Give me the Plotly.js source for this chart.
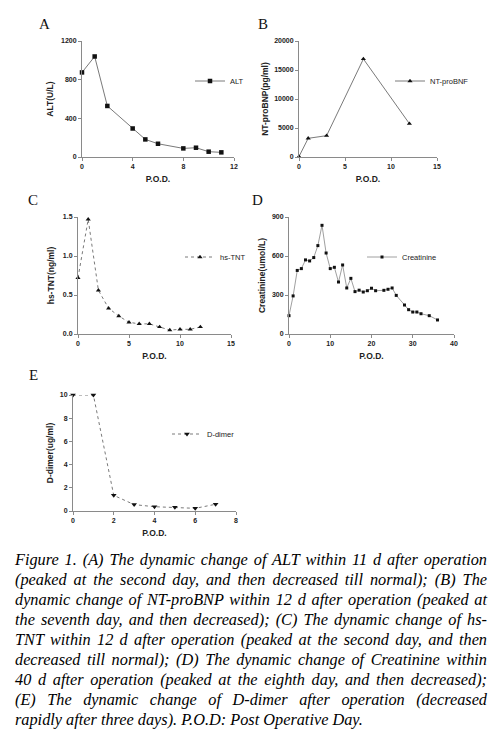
<!DOCTYPE html>
<html>
<head>
<meta charset="utf-8">
<script src="https://cdn.plot.ly/plotly-3.0.1.min.js"></script>
<style>
html,body{margin:0;padding:0;background:#fff;}
#wrap{position:relative;width:497px;height:741px;overflow:hidden;}
#chart{position:absolute;left:0;top:0;width:497px;height:741px;}
#caption{position:absolute;left:15px;top:550px;width:472px;font-family:"Liberation Serif","DejaVu Serif",serif;font-style:italic;font-size:16.3px;line-height:20px;color:#000;}
#caption div{text-align:justify;text-align-last:justify;white-space:normal;}
#caption div.last{text-align-last:left;}
</style>
</head>
<body>
<div id="wrap">
<div id="chart"></div>
<div id="caption"></div>
</div>
<script>
// ---- data ----
const altDays = [0, 1, 2, 4, 5, 6, 8, 9, 10, 11];
const altVals = [875, 1040, 528, 295, 182, 137, 89, 96, 55, 48];

const bnpDays = [0, 1, 3, 7, 12];
const bnpVals = [80, 3220, 3680, 16900, 5750];

const tntDays = [0, 1, 2, 3, 4, 5, 6, 7, 8, 9, 10, 11, 12];
const tntVals = [0.72, 1.47, 0.56, 0.33, 0.23, 0.15, 0.13, 0.13, 0.09, 0.05, 0.06, 0.06, 0.09];

const creDays = [0, 1, 2, 3, 4, 5, 6, 7, 8, 9, 10, 11, 12, 13, 14, 15, 16, 17, 18, 19, 20, 21, 23, 24, 25, 26, 28, 29, 30, 31, 32, 34, 36];
const creVals = [141, 293, 489, 503, 570, 562, 588, 680, 836, 623, 503, 513, 400, 531, 354, 428, 326, 337, 323, 333, 352, 333, 336, 344, 354, 297, 223, 187, 169, 169, 156, 141, 108];

const ddDays = [0, 1, 2, 3, 4, 5, 6, 7];
const ddVals = [10, 10, 1.35, 0.55, 0.37, 0.32, 0.23, 0.58];

const xTicksA = [0, 4, 8, 12];   const yTicksA = [0, 400, 800, 1200];
const xTicksB = [0, 5, 10, 15];  const yTicksB = [0, 5000, 10000, 15000, 20000];
const xTicksC = [0, 5, 10, 15];  const yTicksC = [0, 0.5, 1.0, 1.5];
const yTickTextC = ['0.0', '0.5', '1.0', '1.5'];
const xTicksD = [0, 10, 20, 30, 40]; const yTicksD = [0, 300, 600, 900];
const xTicksE = [0, 2, 4, 6, 8];  const yTicksE = [0, 2, 4, 6, 8, 10];

const captionLines = [
  'Figure 1. (A) The dynamic change of ALT within 11 d after operation',
  '(peaked at the second day, and then decreased till normal); (B) The',
  'dynamic change of NT-proBNP within 12 d after operation (peaked at',
  'the seventh day, and then decreased); (C) The dynamic change of hs-',
  'TNT within 12 d after operation (peaked at the second day, and then',
  'decreased till normal); (D) The dynamic change of Creatinine within',
  '40 d after operation (peaked at the eighth day, and then decreased);',
  '(E) The dynamic change of D-dimer after operation (decreased',
  'rapidly after three days). P.O.D: Post Operative Day.'
];

// ---- layout helpers ----
const W = 497, H = 741;
const px = v => v / W;
const py = v => 1 - v / H;
const LINE = '#8a8a8a';
const tickFont = {family: 'Liberation Sans, Arial, sans-serif', size: 7, color: '#222', weight: 'bold'};
const titleFont = {family: 'Liberation Sans, Arial, sans-serif', size: 8.5, color: '#222', weight: 'bold'};

function xax(domain, range, ticks, anchor) {
  return {domain: domain, range: range, tickvals: ticks, anchor: anchor,
    showline: true, linecolor: LINE, linewidth: 1, ticks: 'outside', ticklen: 3,
    tickcolor: LINE, showgrid: false, zeroline: false, tickfont: tickFont, tickformat: 'd',
    title: {text: 'P.O.D.', font: titleFont, standoff: 6}, fixedrange: true};
}
function yax(domain, range, ticks, anchor, title, standoff, ticktext) {
  const o = {domain: domain, range: range, tickvals: ticks, anchor: anchor,
    showline: true, linecolor: LINE, linewidth: 1, ticks: 'outside', ticklen: 3,
    tickcolor: LINE, showgrid: false, zeroline: false, tickfont: tickFont,
    title: {text: title, font: titleFont, standoff: standoff}, fixedrange: true};
  if (ticktext) o.ticktext = ticktext; else o.tickformat = 'd';
  return o;
}

const lineStyle = {color: '#7a7a7a', width: 1};
const traces = [
  {x: altDays, y: altVals, xaxis: 'x', yaxis: 'y', name: 'ALT', legend: 'legend',
   mode: 'lines+markers', cliponaxis: false, line: lineStyle,
   marker: {symbol: 'square', size: 4.5, color: '#111'}},
  {x: bnpDays, y: bnpVals, xaxis: 'x2', yaxis: 'y2', name: 'NT-proBNF', legend: 'legend2',
   mode: 'lines+markers', cliponaxis: false, line: lineStyle,
   marker: {symbol: 'triangle-up', size: 4.5, color: '#111'}},
  {x: tntDays, y: tntVals, xaxis: 'x3', yaxis: 'y3', name: 'hs-TNT', legend: 'legend3',
   mode: 'lines+markers', cliponaxis: false, line: {color: '#7a7a7a', width: 1, dash: 'dot'},
   marker: {symbol: 'triangle-up', size: 4.5, color: '#111'}},
  {x: creDays, y: creVals, xaxis: 'x4', yaxis: 'y4', name: 'Creatinine', legend: 'legend4',
   mode: 'lines+markers', cliponaxis: false, line: {color: '#a0a0a0', width: 1},
   marker: {symbol: 'square', size: 3, color: '#111'}},
  {x: ddDays, y: ddVals, xaxis: 'x5', yaxis: 'y5', name: 'D-dimer', legend: 'legend5',
   mode: 'lines+markers', cliponaxis: false, line: {color: '#7a7a7a', width: 1, dash: 'dot'},
   marker: {symbol: 'triangle-down', size: 5, color: '#111'}}
];

const legFont = {family: 'Liberation Sans, Arial, sans-serif', size: 7.5, color: '#222'};
function leg(xl, yc) {
  return {x: px(xl), y: py(yc), xanchor: 'left', yanchor: 'middle', font: legFont,
    bgcolor: 'rgba(0,0,0,0)', itemwidth: 30, tracegroupgap: 0};
}

const letterFont = {family: 'Liberation Serif, Times New Roman, serif', size: 15, color: '#111'};
function letter(t, x, y) {
  return {text: t, x: px(x), y: py(y), xref: 'paper', yref: 'paper', showarrow: false,
    xanchor: 'center', yanchor: 'middle', font: letterFont};
}

const layout = {
  width: W, height: H, margin: {l: 0, r: 0, t: 0, b: 0},
  paper_bgcolor: '#fff', plot_bgcolor: '#fff', showlegend: true,
  xaxis:  xax([px(82), px(234)], [0, 12], xTicksA, 'y'),
  yaxis:  yax([py(157), py(41)], [0, 1200], yTicksA, 'x', 'ALT(U/L)', 6),
  xaxis2: xax([px(299), px(437)], [0, 15], xTicksB, 'y2'),
  yaxis2: yax([py(157), py(41)], [0, 20000], yTicksB, 'x2', 'NT-proBNP(pg/ml)', 4),
  xaxis3: xax([px(78), px(231)], [0, 15], xTicksC, 'y3'),
  yaxis3: yax([py(334), py(217)], [0, 1.5], yTicksC, 'x3', 'hs-TNT(ng/ml)', 6, yTickTextC),
  xaxis4: xax([px(289), px(454)], [0, 40], xTicksD, 'y4'),
  yaxis4: yax([py(334), py(217)], [0, 900], yTicksD, 'x4', 'Creatinine(umol/L)', 4),
  xaxis5: xax([px(73), px(236)], [0, 8], xTicksE, 'y5'),
  yaxis5: yax([py(511), py(395)], [0, 10], yTicksE, 'x5', 'D-dimer(ug/ml)', 4),
  legend:  leg(190, 81),
  legend2: leg(390, 81),
  legend3: leg(180, 257),
  legend4: leg(362, 257),
  legend5: leg(167, 434),
  annotations: [
    letter('A', 44, 24), letter('B', 263, 24), letter('C', 33, 200),
    letter('D', 257, 200), letter('E', 33, 375)
  ]
};

Plotly.newPlot('chart', traces, layout, {staticPlot: true, displayModeBar: false});

const cap = document.getElementById('caption');
captionLines.forEach((t, i) => {
  const d = document.createElement('div');
  d.textContent = t;
  if (i === captionLines.length - 1) d.className = 'last';
  cap.appendChild(d);
});
</script>
</body>
</html>
